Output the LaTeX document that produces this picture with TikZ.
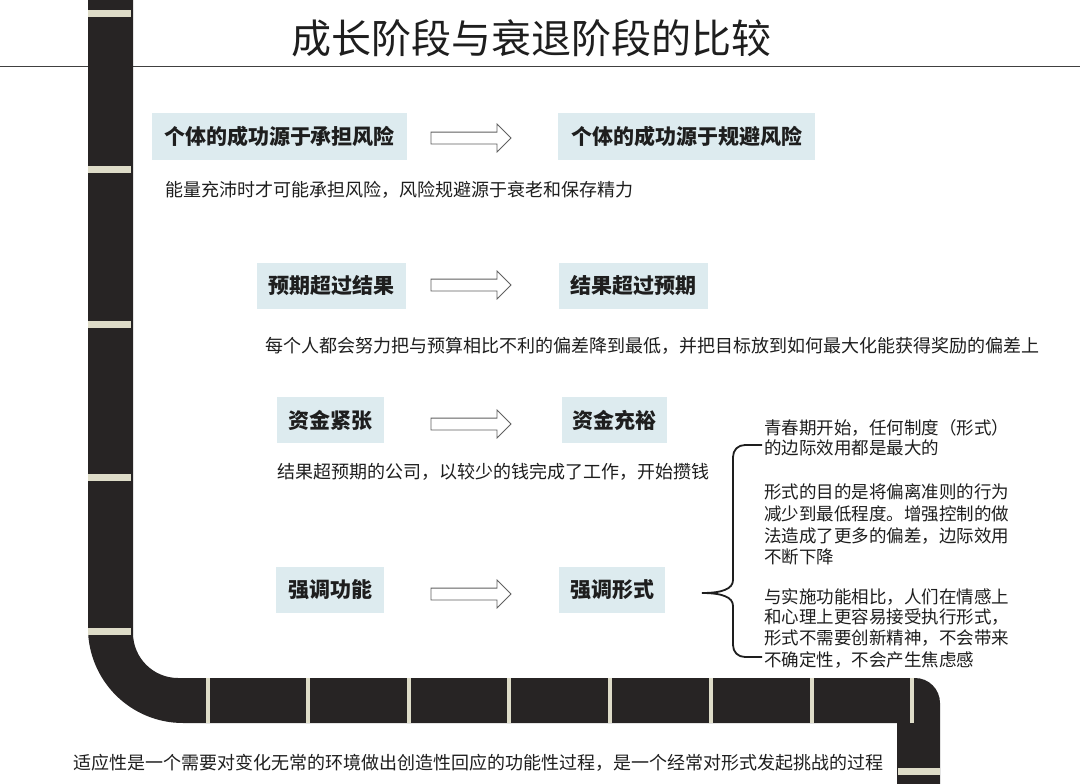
\documentclass[tikz,border=0pt]{standalone}
\usepackage{fontspec}
\usetikzlibrary{shapes.arrows, positioning}
\setmainfont{Noto Sans CJK SC}
\definecolor{Road_Black}{HTML}{272424}
\definecolor{Road_Line}{HTML}{DEDCC8}
\definecolor{Box_Blue}{HTML}{DDEBEF}
\definecolor{Ink}{HTML}{1E1E1E}

\begin{document}
\begin{tikzpicture}[x=1pt, y=-1pt,
    stagebox/.style={fill=Box_Blue, inner sep=0pt, minimum height=46pt,
      font=\fontsize{21}{25}\selectfont\bfseries, text=Ink},
    bigarrow/.style={single arrow, draw=gray!75!black, fill=white, line width=0.8pt,
      minimum height=80pt, inner xsep=0pt, inner ysep=5.5pt,
      single arrow head extend=8pt, single arrow head indent=0pt},
    bodytext/.style={anchor=west, inner sep=0pt, font=\fontsize{18}{21}\selectfont, text=Ink}]
    \useasboundingbox (0,0) rectangle (1080,784);
    \fill[white] (0,0) rectangle (1080,784);
    % Title and rule
    \node[font=\fontsize{40}{48}\selectfont, text=Ink] (title) at (531,38) {成长阶段与衰退阶段的比较};
    \draw[line width=1pt, Ink!85] (0,67) -- (1080,67);
    % Road
    \fill[Road_Black] (88,0) -- (88,628) .. controls (88,680.5) and (130.5,723) .. (183,723)
      -- (897,723) -- (897,784) -- (940,784) -- (940,703)
      .. controls (940,689.2) and (928.8,678) .. (915,678) -- (178,678)
      .. controls (153.2,678) and (133,657.8) .. (133,633) -- (133,0) -- cycle;
    % Lane marks
    \foreach \yy in {14,169,324,477,631}
      \fill[Road_Line] (88,\yy-3.5) rectangle (131,\yy+3.5);
    \foreach \xx in {208,308,409,509,610,711,812,912}
      \fill[Road_Line] (\xx-2,678) rectangle (\xx+2,723);
    \fill[Road_Line] (898,768) rectangle (940,775);
    % Growth vs. decline pairs
    \node[stagebox, minimum width=255pt] (riskTake) at (279.5,136.5) {个体的成功源于承担风险};
    \node[stagebox, minimum width=257pt] (riskAvoid) at (686.5,136.5) {个体的成功源于规避风险};
    \node[stagebox, minimum width=149pt] (expectHigh) at (331.5,286) {预期超过结果};
    \node[stagebox, minimum width=149pt] (resultHigh) at (633.5,286) {结果超过预期};
    \node[stagebox, minimum width=107pt] (cashTight) at (330.5,420) {资金紧张};
    \node[stagebox, minimum width=105pt] (cashRich) at (614.5,420) {资金充裕};
    \node[stagebox, minimum width=108pt] (stressFunc) at (330,589.5) {强调功能};
    \node[stagebox, minimum width=106pt] (stressForm) at (612,589.5) {强调形式};
    % Block arrows
    \node[bigarrow] (toAvoid) at (468,138) {};
    \node[bigarrow] (toResult) at (468,285) {};
    \node[bigarrow] (toRich) at (468,424) {};
    \node[bigarrow] (toForm) at (468,594) {};
    % Notes under the pairs
    \node[bodytext] (riskNote) at (165,190) {能量充沛时才可能承担风险，风险规避源于衰老和保存精力};
    \node[bodytext] (budgetNote) at (265,346) {每个人都会努力把与预算相比不利的偏差降到最低，并把目标放到如何最大化能获得奖励的偏差上};
    \node[bodytext] (cashNote) at (277,472) {结果超预期的公司，以较少的钱完成了工作，开始攒钱};
    \node[bodytext] (adaptNote) at (73,763) {适应性是一个需要对变化无常的环境做出创造性回应的功能性过程，是一个经常对形式发起挑战的过程};
    % Brace and form notes
    \draw[line width=1.8pt, Ink] (762,445) -- (745,445) .. controls (738,445) and (733,450) .. (733,457)
      -- (733,580) .. controls (733,589) and (722,593) .. (702,593)
      .. controls (722,593) and (733,597) .. (733,606) -- (733,645)
      .. controls (733,652) and (738,657) .. (745,657) -- (762,657);
    \foreach \yy/\txt [count=\i] in {428/青春期开始，任何制度（形式）, 448/的边际效用都是最大的,
        492/形式的目的是将偏离准则的行为, 514/减少到最低程度。增强控制的做,
        536/法造成了更多的偏差，边际效用, 557/不断下降,
        597/与实施功能相比，人们在情感上, 617/和心理上更容易接受执行形式，,
        638/形式不需要创新精神，不会带来, 660/不确定性，不会产生焦虑感}
      \node[bodytext, font=\fontsize{17.5}{21}\selectfont] (form\i) at (764,\yy) {\txt};
\end{tikzpicture}
\end{document}
